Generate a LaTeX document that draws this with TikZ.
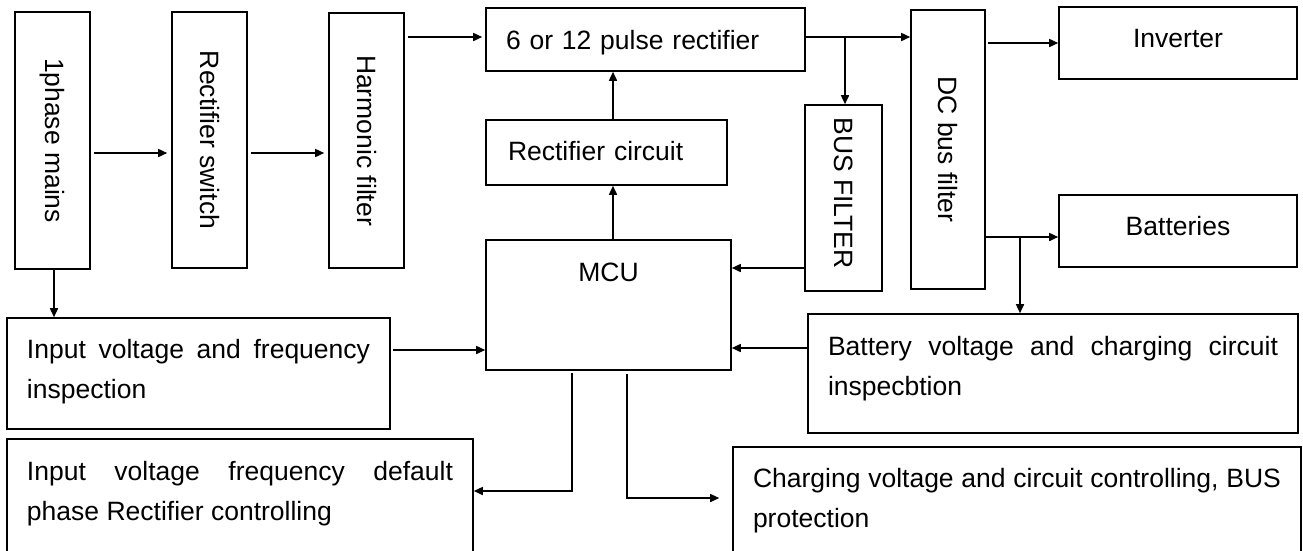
\documentclass[tikz,border=0pt]{standalone}
\usepackage{fontspec}
\setmainfont{Liberation Sans}
\usepackage{graphicx}
\usetikzlibrary{arrows.meta}
\hyphenpenalty=10000
\exhyphenpenalty=10000
\begin{document}
\hyphenpenalty=10000
\begin{tikzpicture}[x=1pt,y=-1pt,
  box/.style={draw, line width=1.6pt, inner sep=0pt, font=\fontsize{26.5}{40}\selectfont},
  con/.style={line width=1.6pt},
  arr/.style={con, -{Triangle[length=9pt,width=8pt]}},
]
\clip (0,0) rectangle (1303,550);
% boxes
\node[box, minimum width=75pt, minimum height=257pt] (mains) at (52.5,140.5) {\rotatebox{-90}{1phase mains}};
\node[box, minimum width=75pt, minimum height=256pt] (rsw) at (209.5,140) {\rotatebox{-90}{Rectifier switch}};
\node[box, minimum width=75pt, minimum height=255pt] (hf) at (366.5,140.5) {\rotatebox{-90}{Harmonic filter}};
\node[box, text width=279pt, inner xsep=20pt, align=left, text height=41pt, text depth=22pt] (pulse) at (645.5,39.5) {6 or 12 pulse rectifier};
\node[box, text width=197pt, inner xsep=22pt, align=left, text height=40pt, text depth=25pt] (rc) at (606.5,152.5) {Rectifier circuit};
\node[box, minimum width=245pt, text height=41pt, text depth=89pt] (mcu) at (608.5,305) {MCU};
\node[box, minimum width=77pt, minimum height=186pt] (busf) at (843.5,198) {\rotatebox{-90}{BUS FILTER\hspace*{10pt}}};
\node[box, minimum width=74pt, minimum height=279pt] (dcf) at (948,149.5) {\rotatebox{-90}{DC bus filter}};
\node[box, minimum width=238pt, text height=40pt, text depth=32pt] (inv) at (1178,43) {Inverter};
\node[box, minimum width=238pt, text height=40pt, text depth=32pt] (bat) at (1178,231) {Batteries};
\node[box, text width=343pt, inner xsep=20pt, align=justify, text height=40pt, text depth=71pt] (inin) at (198.5,373.5) {Input voltage and frequency inspection};
\node[box, text width=426pt, inner xsep=20pt, align=justify, text height=41pt, text depth=73pt] (inctl) at (240,496) {Input voltage frequency default phase Rectifier controlling};
\node[box, text width=450pt, inner xsep=20pt, align=justify, text height=41pt, text depth=78pt] (battin) at (1053,373.5) {Battery voltage and charging circuit inspecbtion};
\node[box, text width=528pt, inner xsep=20pt, align=justify, text height=40pt, text depth=66pt] (chg) at (1017,500) {Charging voltage and circuit controlling, BUS protection};
% helper coordinates
\coordinate (r153) at (0,153);
\coordinate (r37) at (0,37);
\coordinate (r268) at (0,268);
\coordinate (r237) at (0,237);
\coordinate (r350) at (0,350);
\coordinate (r348) at (0,348);
\coordinate (r491) at (0,491);
\coordinate (r498) at (0,498);
\coordinate (c54) at (54,0);
\coordinate (c613) at (613,0);
\coordinate (c572) at (572,0);
\coordinate (c627) at (627,0);
\coordinate (c845) at (845,0);
\coordinate (c1020) at (1020,0);
% connectors
\draw[arr, shorten <=3pt, shorten >=4pt] (mains.east |- r153) -- (rsw.west |- r153);
\draw[arr, shorten <=3pt, shorten >=4pt] (rsw.east |- r153) -- (hf.west |- r153);
\draw[arr, shorten <=3pt, shorten >=3pt] (hf.east |- r37) -- (pulse.west |- r37);
\draw[arr] (pulse.east |- r37) -- (dcf.west |- r37);
\draw[arr] (c845 |- r37) -- (c845 |- busf.north);
\draw[arr] (c613 |- rc.north) -- (c613 |- pulse.south);
\draw[arr] (c613 |- mcu.north) -- (c613 |- rc.south);
\draw[arr] (busf.west |- r268) -- (mcu.east |- r268);
\draw[arr, shorten <=2pt] (dcf.east |- inv.west) -- (inv.west);
\draw[arr] (dcf.east |- r237) -- (bat.west |- r237);
\draw[arr] (c1020 |- r237) -- (c1020 |- battin.north);
\draw[arr] (c54 |- mains.south) -- (c54 |- inin.north);
\draw[arr, shorten <=2pt] (inin.east |- r350) -- (mcu.west |- r350);
\draw[arr] (battin.west |- r348) -- (mcu.east |- r348);
\draw[arr, shorten <=2pt] (c572 |- mcu.south) -- (c572 |- r491) -- (inctl.east |- r491);
\draw[arr, shorten <=3pt, shorten >=13pt] (c627 |- mcu.south) -- (c627 |- r498) -- (chg.west |- r498);
\end{tikzpicture}
\end{document}
